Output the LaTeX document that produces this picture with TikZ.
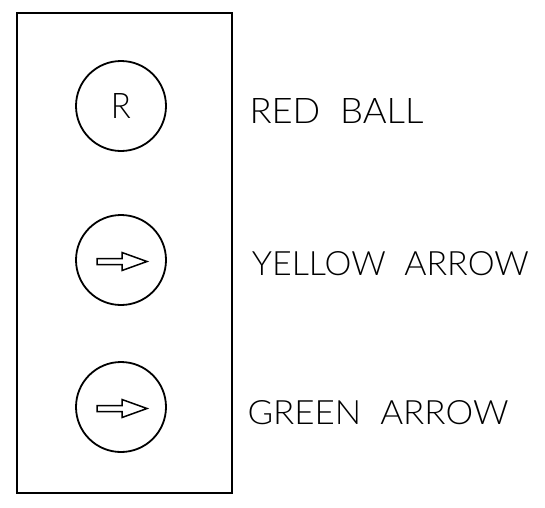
\documentclass[tikz,border=0pt]{standalone}
\usepackage{fontspec}
\newfontfamily\cad{Lato Light}
\usepackage{graphicx}
\tikzset{
  frameline/.style={line width=1.8pt},
  ball/.style={circle, draw, line width=1.8pt, minimum size=90pt, inner sep=0pt},
  blockarrow/.style={line width=1.5pt, line join=miter},
  caption/.style={inner sep=0pt, anchor=base west}
}
\begin{document}
\begin{tikzpicture}[x=1pt,y=-1pt]
\useasboundingbox (0,0) rectangle (545,507);
\draw[frameline] (17.3,13.3) rectangle (231.7,492.7);
\node[ball] (c1) at (121,106) {\resizebox{20pt}{25pt}{\cad R}};
\node[ball] (c2) at (121,260) {};
\node[ball] (c3) at (121,407) {};
\foreach \n in {c2,c3}{
  \draw[blockarrow] ([shift={(-24,-1.5)}]\n.center) -- ([shift={(1,-1.5)}]\n.center)
    -- ([shift={(1,-7.5)}]\n.center) -- ([shift={(26,1.5)}]\n.center)
    -- ([shift={(1,10.5)}]\n.center) -- ([shift={(1,4.5)}]\n.center)
    -- ([shift={(-24,4.5)}]\n.center) -- cycle;
}
\node[caption] (t1) at (249.3,123.3) {\resizebox{174pt}{25pt}{\cad RED\ \ BALL}};
\node[caption] (t2) at (251.7,275.7) {\resizebox{277pt}{24pt}{\cad YELLOW\ \ ARROW}};
\node[caption] (t3) at (247.3,424) {\resizebox{261pt}{24pt}{\cad GREEN\ \ ARROW}};
\end{tikzpicture}
\end{document}
